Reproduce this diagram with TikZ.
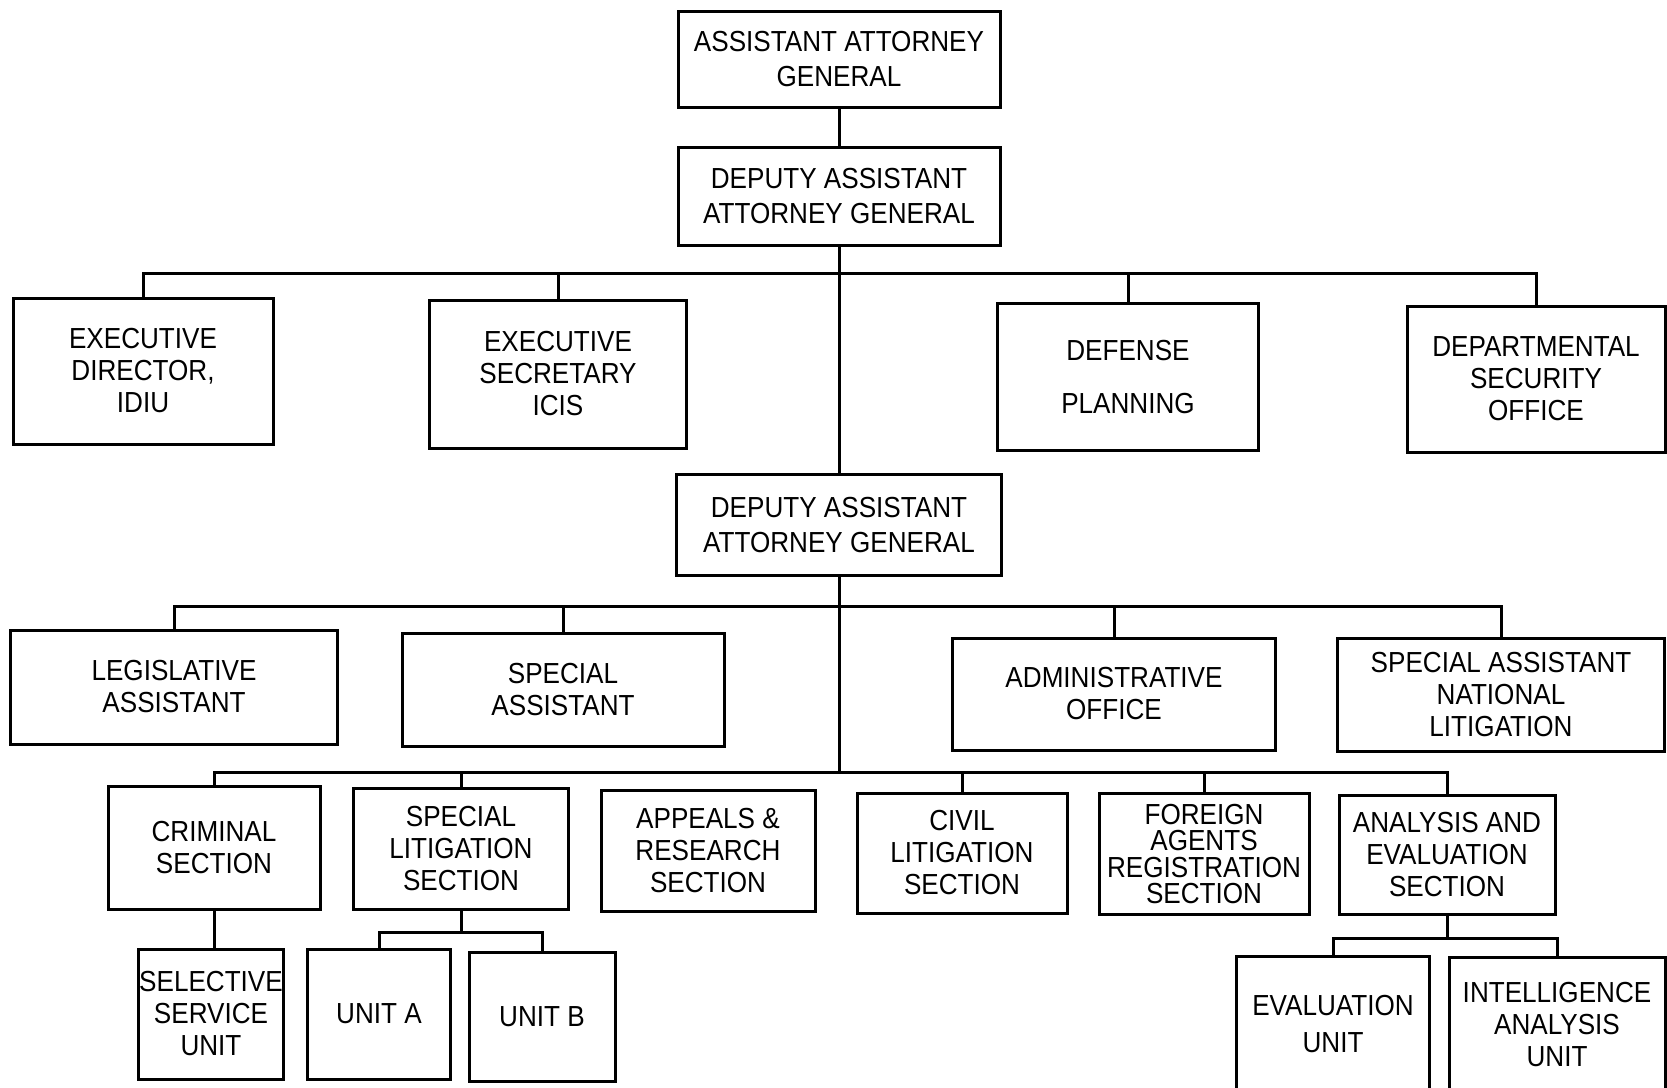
\documentclass[tikz,border=0pt]{standalone}
\usepackage{fontspec}
\setmainfont[FakeStretch=0.9]{Liberation Sans}
\usepackage{tikz}

\tikzset{
  orgbox/.style={draw, line width=3pt, align=center, inner sep=0pt, font=\fontsize{29}{32}\selectfont},
  link/.style={line width=3pt}
}

\begin{document}
\begin{tikzpicture}[x=1pt, y=-1pt]
\clip (0,0) rectangle (1667,1087);
% top of the chart
\node[orgbox, minimum width=322, minimum height=96, font=\fontsize{29}{35}\selectfont] (aag) at (839,59) {ASSISTANT ATTORNEY\\GENERAL};
\node[orgbox, minimum width=322, minimum height=98, font=\fontsize{29}{35}\selectfont] (daagA) at (839,196) {DEPUTY ASSISTANT\\ATTORNEY GENERAL};
\node[orgbox, minimum width=260, minimum height=146] (exdir) at (143,371) {EXECUTIVE\\DIRECTOR,\\IDIU};
\node[orgbox, minimum width=257, minimum height=148] (exsec) at (558,374) {EXECUTIVE\\SECRETARY\\ICIS};
\node[orgbox, minimum width=261, minimum height=147] (defplan) at (1128,377) {DEFENSE\\[21pt]PLANNING};
\node[orgbox, minimum width=258, minimum height=146] (depsec) at (1536,379) {DEPARTMENTAL\\SECURITY\\OFFICE};
\node[orgbox, minimum width=325, minimum height=101, font=\fontsize{29}{35}\selectfont] (daagB) at (839,525) {DEPUTY ASSISTANT\\ATTORNEY GENERAL};
% staff offices
\node[orgbox, minimum width=327, minimum height=114] (legis) at (174,687) {LEGISLATIVE\\ASSISTANT};
\node[orgbox, minimum width=322, minimum height=113] (spasst) at (563,690) {SPECIAL\\ASSISTANT};
\node[orgbox, minimum width=323, minimum height=112] (admin) at (1114,694) {ADMINISTRATIVE\\OFFICE};
\node[orgbox, minimum width=327, minimum height=113] (spnat) at (1501,695) {SPECIAL ASSISTANT\\NATIONAL\\LITIGATION};
% sections
\node[orgbox, minimum width=212, minimum height=123] (crim) at (214,848) {CRIMINAL\\SECTION};
\node[orgbox, minimum width=215, minimum height=121] (speclit) at (461,849) {SPECIAL\\LITIGATION\\SECTION};
\node[orgbox, minimum width=214, minimum height=121] (appeals) at (708,851) {APPEALS \&\\RESEARCH\\SECTION};
\node[orgbox, minimum width=210, minimum height=120] (civil) at (962,853) {CIVIL\\LITIGATION\\SECTION};
\node[orgbox, minimum width=210, minimum height=121, font=\fontsize{29}{26.5}\selectfont] (foreign) at (1204,854) {FOREIGN\\AGENTS\\REGISTRATION\\SECTION};
\node[orgbox, minimum width=216, minimum height=119] (analysis) at (1447,855) {ANALYSIS AND\\EVALUATION\\SECTION};
% units
\node[orgbox, minimum width=145, minimum height=130] (selsvc) at (211,1014) {SELECTIVE\\SERVICE\\UNIT};
\node[orgbox, minimum width=143, minimum height=130] (unitA) at (379,1014) {UNIT A};
\node[orgbox, minimum width=146, minimum height=129] (unitB) at (542,1017) {UNIT B};
\node[orgbox, minimum width=193, minimum height=136, font=\fontsize{29}{37}\selectfont] (evalunit) at (1333,1024) {EVALUATION\\UNIT};
\node[orgbox, minimum width=216, minimum height=136] (intel) at (1557,1025) {INTELLIGENCE\\ANALYSIS\\UNIT};

\coordinate (b1) at (0,273);
\coordinate (b2) at (0,606);
\coordinate (b3) at (0,772);
\coordinate (b4) at (0,932);
\coordinate (b5) at (0,938);

\draw[link] (aag.south) -- (daagA.north) (daagA.south) -- (daagB.north);
\draw[link] (exdir.north) -- (exdir.north |- b1) -- (depsec.north |- b1) -- (depsec.north);
\draw[link] (exsec.north) -- (exsec.north |- b1) (defplan.north) -- (defplan.north |- b1);
\draw[link] (daagB.south) -- (daagB.south |- b3);
\draw[link] (legis.north) -- (legis.north |- b2) -- (spnat.north |- b2) -- (spnat.north);
\draw[link] (spasst.north) -- (spasst.north |- b2) (admin.north) -- (admin.north |- b2);
\draw[link] (crim.north) -- (crim.north |- b3) -- (analysis.north |- b3) -- (analysis.north);
\draw[link] (speclit.north) -- (speclit.north |- b3) (civil.north) -- (civil.north |- b3) (foreign.north) -- (foreign.north |- b3);
\draw[link] (crim.south) -- (crim.south |- selsvc.north);
\draw[link] (speclit.south) -- (speclit.south |- b4);
\draw[link] (unitA.north) -- (unitA.north |- b4) -- (unitB.north |- b4) -- (unitB.north);
\draw[link] (analysis.south) -- (analysis.south |- b5);
\draw[link] (evalunit.north) -- (evalunit.north |- b5) -- (intel.north |- b5) -- (intel.north);
\end{tikzpicture}
\end{document}
